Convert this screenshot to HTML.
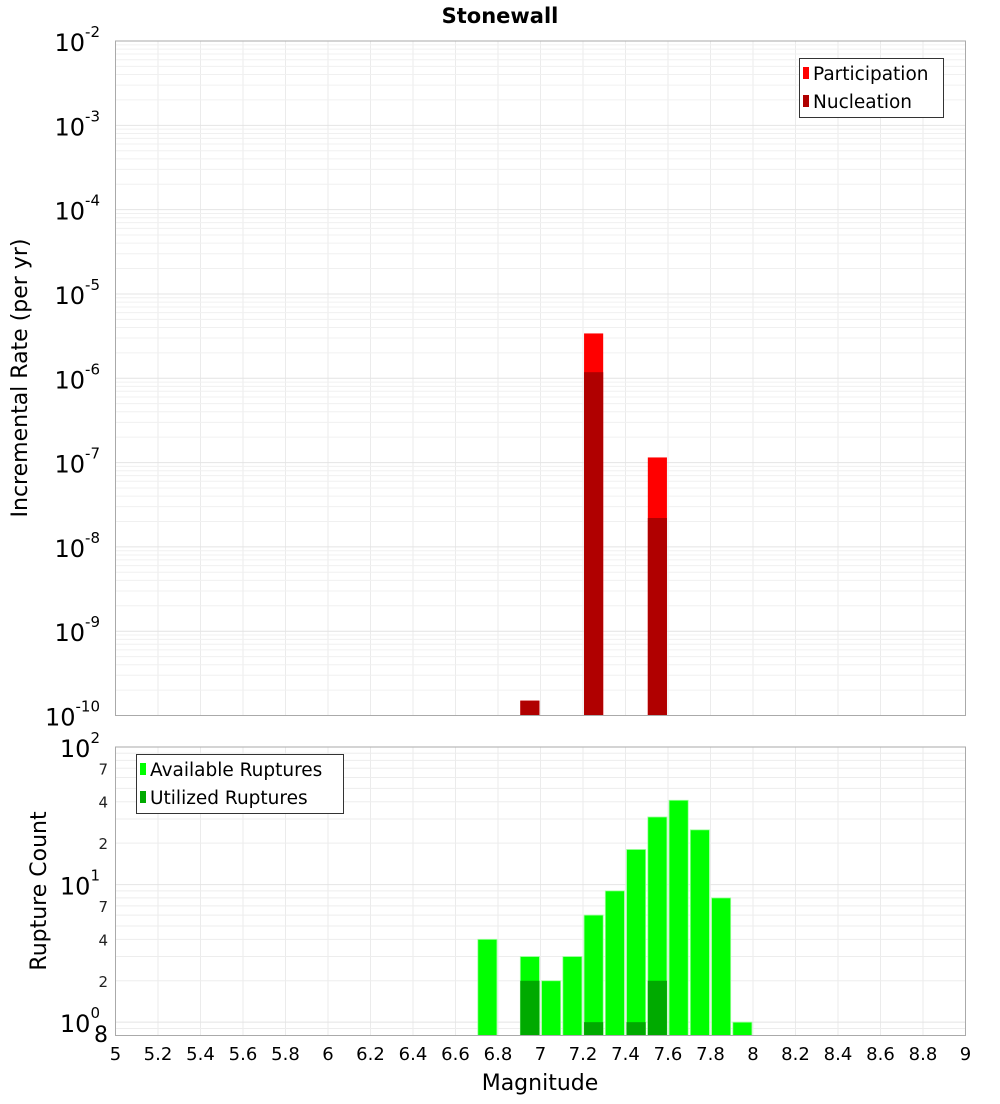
<!DOCTYPE html>
<html><head><meta charset="utf-8"><style>
body{margin:0;background:#fff;font-family:"DejaVu Sans","Liberation Sans",sans-serif}
</style></head><body>
<svg id="chart" width="1000" height="1100" xmlns="http://www.w3.org/2000/svg" font-family="DejaVu Sans, Liberation Sans, sans-serif">
<text x="500" y="23" text-anchor="middle" font-size="21" font-weight="bold">Stonewall</text>
<text transform="translate(27,378) rotate(-90)" text-anchor="middle" font-size="22">Incremental Rate (per yr)</text>
<text transform="translate(46,891) rotate(-90)" text-anchor="middle" font-size="22">Rupture Count</text>
<text x="540" y="1090" text-anchor="middle" font-size="22">Magnitude</text>
<g id="topG"></g><g id="botG"></g><g id="xtG"></g>
<g>
<rect x="799.5" y="58.5" width="144" height="59" fill="#fff" stroke="#333"/>
<rect x="803" y="67" width="6" height="12" fill="#ff0000"/>
<text x="813" y="80" font-size="18.5">Participation</text>
<rect x="803" y="95" width="6" height="12" fill="#b00000"/>
<text x="813" y="108" font-size="18.5">Nucleation</text>
</g>
<g>
<rect x="136.5" y="754.5" width="207" height="59" fill="#fff" stroke="#333"/>
<rect x="140" y="763" width="6" height="12" fill="#00ff00"/>
<text x="150" y="776" font-size="18.5">Available Ruptures</text>
<rect x="140" y="791" width="6" height="12" fill="#00aa00"/>
<text x="150" y="804" font-size="18.5">Utilized Ruptures</text>
</g>
</svg>
<script>
const magBins=[6.95,7.25,7.55];
const participation=[1.5e-10,3.4e-6,1.15e-7];
const nucleation=[1.5e-10,1.18e-6,2.2e-8];
const countBins=[6.75,6.95,7.05,7.15,7.25,7.35,7.45,7.55,7.65,7.75,7.85,7.95];
const available=[4,3,2,3,6,9,18,31,41,25,8,1];
const utilBins=[6.95,7.25,7.45,7.55];
const utilized=[2,1,1,2];
const xTicks=[5,5.2,5.4,5.6,5.8,6,6.2,6.4,6.6,6.8,7,7.2,7.4,7.6,7.8,8,8.2,8.4,8.6,8.8,9];
const NS="http://www.w3.org/2000/svg";
const L=115.5,R=965.5;
const X=m=>L+(m-5)/4*(R-L);
const T0=41,T1=715.5;
const YT=v=>T0+(-2-Math.log10(v))/8*(T1-T0);
const B0=747,B1=1035.5,bmin=Math.log10(0.8);
const YB=v=>B0+(2-Math.log10(v))/(2-bmin)*(B1-B0);
function el(p,t,a,txt){const e=document.createElementNS(NS,t);for(const k in a)e.setAttribute(k,a[k]);if(txt!==undefined)e.textContent=txt;p.appendChild(e);return e;}
const topG=document.getElementById('topG'),botG=document.getElementById('botG'),xtG=document.getElementById('xtG');
el(topG,'rect',{x:L,y:T0,width:R-L,height:T1-T0,fill:'#fff'});
for(const m of xTicks){const g=el(topG,'line',{x1:X(m),x2:X(m),y1:T0,y2:T1,stroke:'#ebebeb'});

el(botG,'line',{x1:X(m),x2:X(m),y1:B0,y2:B1,stroke:'#ebebeb'});}
for(let e=-10;e<-2;e++)for(let k=1;k<10;k++){const y=YT(k*Math.pow(10,e));el(topG,'line',{x1:L,x2:R,y1:y,y2:y,stroke:k==1?'#e4e4e4':'#f0f0f0'});}
for(let e=-1;e<2;e++)for(let k=1;k<10;k++){const v=k*Math.pow(10,e);if(v<0.8)continue;const y=YB(v);el(botG,'line',{x1:L,x2:R,y1:y,y2:y,stroke:k==1?'#e4e4e4':'#ededed'});}
const bw=(X(0.1)-X(0))*0.9;
magBins.forEach((m,i)=>{const r=el(topG,'rect',{x:X(m)-bw/2,y:YT(participation[i]),width:bw,height:T1-YT(participation[i]),fill:'#ff0000'});

});
magBins.forEach((m,i)=>{const r=el(topG,'rect',{x:X(m)-bw/2,y:YT(nucleation[i]),width:bw,height:T1-YT(nucleation[i]),fill:'#b00000'});

});
el(topG,'rect',{x:L,y:T0,width:R-L,height:T1-T0,fill:'none',stroke:'#aaa'});
for(let e=-10;e<=-2;e++){const y=YT(Math.pow(10,e));const t=el(topG,'text',{x:100,y:y+10,'text-anchor':'end','font-size':24});


t.textContent='10';el(t,'tspan',{dy:-14,'font-size':15},String(e));}
countBins.forEach((m,i)=>{const r=el(botG,'rect',{x:X(m)-bw/2,y:YB(available[i]),width:bw,height:B1-YB(available[i]),fill:'#00ff00',stroke:'#a0ffa0','stroke-width':0.8});

});
utilBins.forEach((m,i)=>{const r=el(botG,'rect',{x:X(m)-bw/2,y:YB(utilized[i]),width:bw,height:B1-YB(utilized[i]),fill:'#00aa00'});

});
el(botG,'rect',{x:L,y:B0,width:R-L,height:B1-B0,fill:'none',stroke:'#aaa'});
for(const e of [0,1,2]){const y=YB(Math.pow(10,e));const t=el(botG,'text',{x:100,y:y+10,'text-anchor':'end','font-size':24});


t.textContent='10';el(t,'tspan',{dy:-14,'font-size':15},String(e));}
for(const v of [2,4,7,20,40,70]){const t=el(botG,'text',{x:108,y:YB(v)+6,'text-anchor':'end','font-size':15,fill:'#222'},String(v).charAt(0));

}
{const t=el(botG,'text',{x:108,y:1042,'text-anchor':'end','font-size':22},'8');

}
for(const m of xTicks){const t=el(xtG,'text',{x:X(m),y:1060,'text-anchor':'middle','font-size':18},String(m));

}
</script>
</body></html>
